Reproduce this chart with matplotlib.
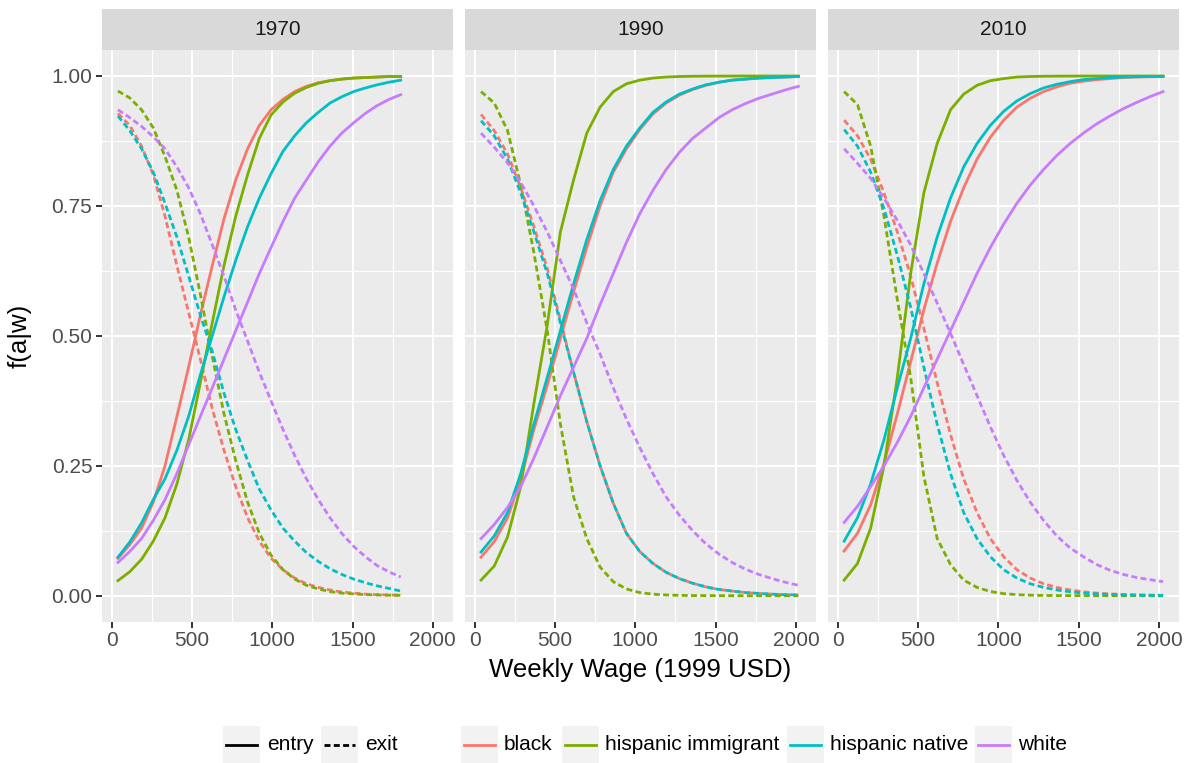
import matplotlib
matplotlib.use('Agg')
import matplotlib.pyplot as plt
from matplotlib.patches import Rectangle
from matplotlib.lines import Line2D

plt.rcParams['font.family'] = ['Liberation Sans', 'DejaVu Sans']

years = ['1970', '1990', '2010']
groups = ['black', 'hispanic immigrant', 'hispanic native', 'white']
group_colors = ['#F8766D', '#7CAE00', '#00BFC4', '#C77CFF']
kinds = ['entry', 'exit']

x_ticks = [0, 500, 1000, 1500, 2000]
y_ticks = [0.0, 0.25, 0.5, 0.75, 1.0]
y_labels = ['0.00', '0.25', '0.50', '0.75', '1.00']

# wage grid for each year
wage_1970 = [40, 113, 187, 260, 333, 407, 480, 553, 627, 700, 773, 847, 920,
             993, 1067, 1140, 1213, 1287, 1360, 1433, 1507, 1580, 1653, 1727, 1800]
wage_1990 = [40, 122, 205, 287, 369, 452, 534, 616, 698, 781, 863, 945, 1028,
             1110, 1192, 1274, 1357, 1439, 1521, 1603, 1686, 1768, 1850, 1932, 2015]
wage_2010 = [40, 123, 205, 288, 371, 454, 536, 619, 702, 784, 867, 950, 1033,
             1115, 1198, 1281, 1364, 1446, 1529, 1612, 1694, 1777, 1860, 1942, 2025]

# 1970
entry_1970_black = [0.072, 0.098, 0.13, 0.18, 0.25, 0.345, 0.44, 0.54, 0.635, 0.725, 0.80, 0.86, 0.905,
                    0.935, 0.955, 0.97, 0.98, 0.987, 0.991, 0.994, 0.996, 0.997, 0.998, 0.999, 0.999]
entry_1970_immigrant = [0.029, 0.046, 0.07, 0.105, 0.15, 0.215, 0.30, 0.41, 0.525, 0.635, 0.73, 0.81, 0.88,
                        0.925, 0.95, 0.967, 0.978, 0.986, 0.991, 0.994, 0.996, 0.997, 0.998, 0.999, 0.999]
entry_1970_native = [0.074, 0.103, 0.14, 0.185, 0.225, 0.28, 0.345, 0.425, 0.50, 0.575, 0.645, 0.71, 0.765,
                     0.812, 0.855, 0.885, 0.91, 0.93, 0.948, 0.96, 0.97, 0.977, 0.983, 0.988, 0.992]
entry_1970_white = [0.064, 0.085, 0.11, 0.145, 0.185, 0.235, 0.29, 0.345, 0.40, 0.455, 0.51, 0.565, 0.62,
                    0.67, 0.72, 0.765, 0.80, 0.835, 0.865, 0.89, 0.91, 0.928, 0.943, 0.955, 0.964]
exit_1970_black = [0.928, 0.905, 0.865, 0.81, 0.73, 0.635, 0.545, 0.455, 0.36, 0.28, 0.21, 0.15, 0.105,
                   0.072, 0.05, 0.034, 0.023, 0.016, 0.011, 0.007, 0.005, 0.003, 0.002, 0.0015, 0.001]
exit_1970_immigrant = [0.971, 0.958, 0.935, 0.90, 0.845, 0.78, 0.69, 0.58, 0.46, 0.35, 0.26, 0.18, 0.12,
                       0.078, 0.05, 0.032, 0.02, 0.013, 0.008, 0.005, 0.0035, 0.002, 0.0015, 0.001, 0.0007]
exit_1970_native = [0.923, 0.895, 0.86, 0.815, 0.755, 0.69, 0.615, 0.54, 0.47, 0.39, 0.32, 0.26, 0.205,
                    0.165, 0.13, 0.105, 0.083, 0.066, 0.052, 0.041, 0.032, 0.025, 0.019, 0.014, 0.009]
exit_1970_white = [0.935, 0.92, 0.903, 0.883, 0.86, 0.825, 0.785, 0.735, 0.675, 0.615, 0.55, 0.49, 0.43,
                   0.375, 0.32, 0.27, 0.225, 0.185, 0.15, 0.12, 0.095, 0.075, 0.058, 0.046, 0.036]

# 1990
entry_1990_black = [0.074, 0.104, 0.15, 0.225, 0.32, 0.405, 0.495, 0.585, 0.67, 0.75, 0.815, 0.86, 0.897,
                    0.927, 0.948, 0.963, 0.974, 0.982, 0.988, 0.992, 0.994, 0.996, 0.997, 0.998, 0.999]
entry_1990_immigrant = [0.03, 0.057, 0.113, 0.21, 0.37, 0.52, 0.70, 0.80, 0.89, 0.94, 0.97, 0.985, 0.992,
                        0.996, 0.998, 0.999, 0.9995, 0.9997, 0.9998, 0.9999, 1.0, 1.0, 1.0, 1.0, 1.0]
entry_1990_native = [0.084, 0.115, 0.16, 0.235, 0.33, 0.42, 0.51, 0.60, 0.685, 0.76, 0.82, 0.865, 0.90,
                     0.93, 0.95, 0.965, 0.975, 0.983, 0.988, 0.992, 0.994, 0.996, 0.997, 0.998, 0.999]
entry_1990_white = [0.11, 0.137, 0.17, 0.21, 0.265, 0.325, 0.385, 0.44, 0.495, 0.56, 0.62, 0.68, 0.735,
                    0.78, 0.82, 0.853, 0.88, 0.90, 0.92, 0.935, 0.947, 0.957, 0.965, 0.973, 0.98]
exit_1990_black = [0.926, 0.895, 0.85, 0.785, 0.71, 0.63, 0.53, 0.43, 0.335, 0.25, 0.178, 0.12, 0.085,
                   0.062, 0.045, 0.033, 0.024, 0.017, 0.012, 0.009, 0.006, 0.0045, 0.003, 0.002, 0.0015]
exit_1990_immigrant = [0.97, 0.948, 0.895, 0.79, 0.66, 0.51, 0.33, 0.19, 0.11, 0.055, 0.027, 0.013, 0.006,
                       0.003, 0.0015, 0.0007, 0.0003, 0.0002, 0.0001, 0.0, 0.0, 0.0, 0.0, 0.0, 0.0]
exit_1990_native = [0.914, 0.885, 0.84, 0.775, 0.70, 0.62, 0.525, 0.43, 0.335, 0.25, 0.178, 0.12, 0.085,
                    0.062, 0.045, 0.033, 0.024, 0.017, 0.012, 0.009, 0.006, 0.0045, 0.003, 0.002, 0.0015]
exit_1990_white = [0.89, 0.863, 0.833, 0.795, 0.75, 0.70, 0.645, 0.59, 0.525, 0.465, 0.40, 0.34, 0.285,
                   0.235, 0.19, 0.155, 0.125, 0.10, 0.08, 0.064, 0.051, 0.041, 0.033, 0.026, 0.02]

# 2010
entry_2010_black = [0.086, 0.12, 0.175, 0.255, 0.35, 0.45, 0.55, 0.64, 0.72, 0.785, 0.84, 0.882, 0.915,
                    0.94, 0.957, 0.97, 0.979, 0.986, 0.99, 0.993, 0.995, 0.997, 0.998, 0.9985, 0.999]
entry_2010_immigrant = [0.03, 0.062, 0.13, 0.25, 0.42, 0.62, 0.775, 0.87, 0.935, 0.965, 0.982, 0.991, 0.995,
                        0.998, 0.999, 0.9995, 0.9997, 0.9998, 0.9999, 1.0, 1.0, 1.0, 1.0, 1.0, 1.0]
entry_2010_native = [0.105, 0.15, 0.215, 0.30, 0.40, 0.495, 0.60, 0.69, 0.765, 0.825, 0.87, 0.905, 0.932,
                     0.952, 0.966, 0.977, 0.984, 0.989, 0.993, 0.995, 0.997, 0.998, 0.9985, 0.999, 0.9993]
entry_2010_white = [0.141, 0.172, 0.21, 0.25, 0.295, 0.345, 0.40, 0.455, 0.51, 0.565, 0.62, 0.67, 0.715,
                    0.755, 0.79, 0.82, 0.847, 0.87, 0.89, 0.908, 0.923, 0.937, 0.949, 0.96, 0.97]
exit_2010_black = [0.915, 0.885, 0.84, 0.775, 0.70, 0.615, 0.515, 0.41, 0.31, 0.225, 0.16, 0.11, 0.075,
                   0.05, 0.034, 0.023, 0.016, 0.011, 0.0075, 0.005, 0.0035, 0.0024, 0.0016, 0.0011, 0.0008]
exit_2010_immigrant = [0.97, 0.945, 0.865, 0.73, 0.57, 0.42, 0.23, 0.11, 0.06, 0.03, 0.016, 0.008, 0.004,
                       0.002, 0.001, 0.0005, 0.0003, 0.0002, 0.0001, 0.0, 0.0, 0.0, 0.0, 0.0, 0.0]
exit_2010_native = [0.897, 0.865, 0.815, 0.745, 0.655, 0.555, 0.44, 0.33, 0.235, 0.16, 0.11, 0.075, 0.05,
                    0.034, 0.023, 0.016, 0.011, 0.0075, 0.005, 0.0035, 0.0024, 0.0016, 0.0011, 0.0008, 0.0005]
exit_2010_white = [0.86, 0.832, 0.803, 0.765, 0.722, 0.675, 0.62, 0.563, 0.505, 0.445, 0.385, 0.325, 0.27,
                   0.222, 0.18, 0.145, 0.115, 0.092, 0.075, 0.06, 0.049, 0.041, 0.035, 0.031, 0.027]

wages = {'1970': wage_1970, '1990': wage_1990, '2010': wage_2010}
curves = {
    '1970': {'entry': [entry_1970_black, entry_1970_immigrant, entry_1970_native, entry_1970_white],
             'exit': [exit_1970_black, exit_1970_immigrant, exit_1970_native, exit_1970_white]},
    '1990': {'entry': [entry_1990_black, entry_1990_immigrant, entry_1990_native, entry_1990_white],
             'exit': [exit_1990_black, exit_1990_immigrant, exit_1990_native, exit_1990_white]},
    '2010': {'entry': [entry_2010_black, entry_2010_immigrant, entry_2010_native, entry_2010_white],
             'exit': [exit_2010_black, exit_2010_immigrant, exit_2010_native, exit_2010_white]},
}

W, H = 1188, 763
fig = plt.figure(figsize=(W / 100, H / 100), dpi=100)

# ggplot style limits: data range plus 5% on each side, shared by all facets
all_x = wage_1970 + wage_1990 + wage_2010
xpad = 0.05 * (max(all_x) - min(all_x))
xlim = (min(all_x) - xpad, max(all_x) + xpad)
ylim = (-0.05, 1.05)

panel_left = 102
panel_w = 350.8
panel_gap = 12.3
panel_top = 50
panel_bottom = 621.7
strip_top = 9

small_font = 15
title_font = 18.6
line_w = 2.0
dash = (2.15, 1.2)

for i, year in enumerate(years):
    left = panel_left + i * (panel_w + panel_gap)
    ax = fig.add_axes([left / W, 1 - panel_bottom / H, panel_w / W, (panel_bottom - panel_top) / H])
    ax.set_facecolor('#EBEBEB')
    for s in ax.spines.values():
        s.set_visible(False)
    ax.set_xlim(xlim)
    ax.set_ylim(ylim)
    ax.set_xticks(x_ticks)
    ax.set_xticklabels([str(t) for t in x_ticks])
    ax.set_xticks([250, 750, 1250, 1750], minor=True)
    ax.set_yticks(y_ticks)
    ax.set_yticks([0.125, 0.375, 0.625, 0.875], minor=True)
    ax.set_axisbelow(True)
    ax.grid(which='major', color='white', linewidth=1.5)
    ax.grid(which='minor', color='white', linewidth=0.8)
    ax.tick_params(which='minor', length=0)
    ax.tick_params(which='major', length=4, width=1.4, color='#333333',
                   labelcolor='#4D4D4D', labelsize=small_font, pad=3)
    if i == 0:
        ax.set_yticklabels(y_labels)
    else:
        ax.tick_params(axis='y', which='major', length=0, labelleft=False)

    x = wages[year]
    for g, color in enumerate(group_colors):
        ax.plot(x, curves[year]['entry'][g], color=color, linewidth=line_w, solid_joinstyle='round')
        ax.plot(x, curves[year]['exit'][g], color=color, linewidth=line_w,
                dashes=dash, dash_capstyle='butt')

    # facet strip
    sax = fig.add_axes([left / W, 1 - panel_top / H, panel_w / W, (panel_top - strip_top) / H])
    sax.set_facecolor('#D9D9D9')
    sax.set_xticks([])
    sax.set_yticks([])
    for s in sax.spines.values():
        s.set_visible(False)
    sax.text(0.5, 0.5, year, ha='center', va='center', fontsize=small_font, color='#1A1A1A',
             transform=sax.transAxes)

fig.text(640.5 / W, 1 - 670 / H, 'Weekly Wage (1999 USD)', ha='center', va='center', fontsize=title_font)
fig.text(20 / W, 1 - 336 / H, 'f(a|w)', ha='center', va='center', rotation=90, fontsize=title_font)

# legends along the bottom, laid out in pixel units
lax = fig.add_axes([0, 0, 1, 1])
lax.set_xlim(0, W)
lax.set_ylim(H, 0)
lax.axis('off')

key = 37
key_y = 726
mid_y = key_y + key / 2

linetype_keys = [(223, 267), (321, 365)]
for (kx, tx), kind in zip(linetype_keys, kinds):
    lax.add_patch(Rectangle((kx, key_y), key, key, facecolor='#F2F2F2', edgecolor='none'))
    ln = Line2D([kx + 3, kx + key - 3], [mid_y, mid_y], color='black', linewidth=line_w)
    if kind == 'exit':
        ln.set_dashes(dash)
        ln.set_dash_capstyle('butt')
    lax.add_line(ln)
    lax.text(tx, mid_y, kind, ha='left', va='center', fontsize=small_font, color='black')

colour_keys = [(461, 504), (561.6, 604.7), (786.7, 830), (975, 1018)]
for (kx, tx), name, color in zip(colour_keys, groups, group_colors):
    lax.add_patch(Rectangle((kx, key_y), key, key, facecolor='#F2F2F2', edgecolor='none'))
    lax.add_line(Line2D([kx + 3, kx + key - 3], [mid_y, mid_y], color=color, linewidth=line_w))
    lax.text(tx, mid_y, name, ha='left', va='center', fontsize=small_font, color='black')

fig.savefig('out.png', dpi=100)
